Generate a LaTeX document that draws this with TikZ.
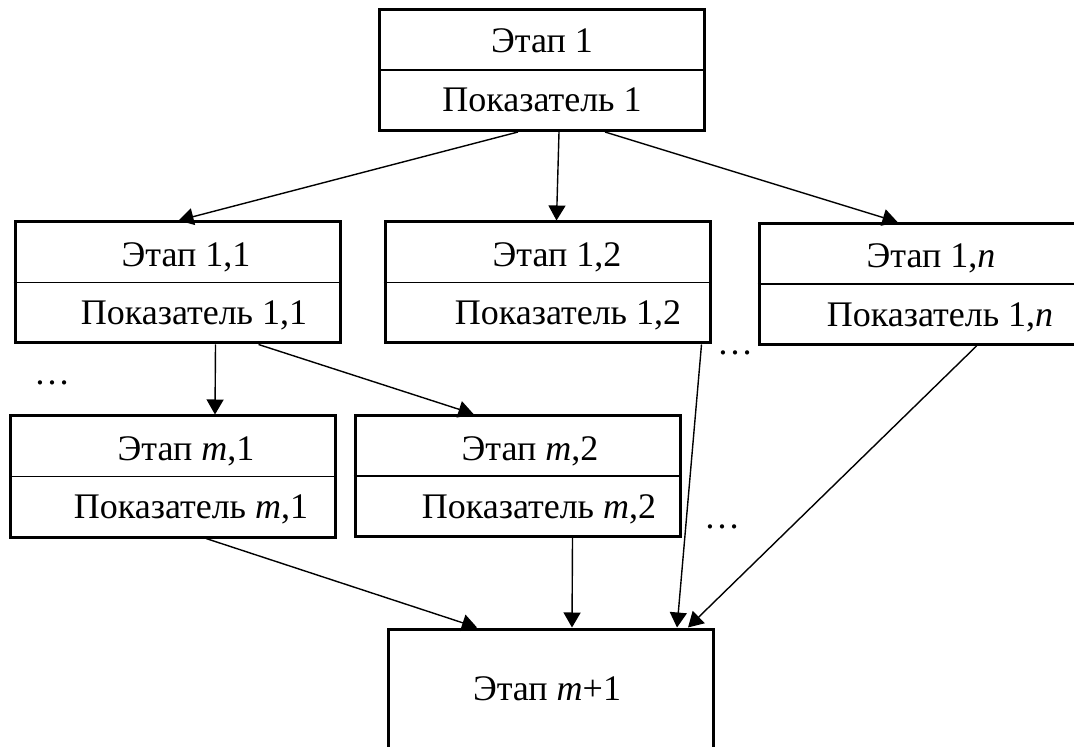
\documentclass[tikz,border=0pt]{standalone}
\usepackage{fontspec}
\setmainfont{Liberation Serif}
\usetikzlibrary{arrows.meta,calc}

\begin{document}
\begin{tikzpicture}[x=0.5pt,y=-0.5pt,
		box/.style={draw,line width=1.5pt,minimum width=162.5pt,minimum height=60.5pt,inner sep=0pt},
		lbl/.style={font=\fontsize{18}{20}\selectfont,inner sep=0pt,text depth=0pt},
		arr/.style={line width=0.7pt,-{Triangle[length=7.5pt,width=8.5pt]}}]
		\useasboundingbox (0,0) rectangle (1074,747);
		\clip (0,0) rectangle (1074,747);

		\foreach \n / \x / \y in {s1/542/70,s11/177.5/282.5,s12/547.5/282.5,s1n/921.5/284,sm1/173/476.5,sm2/517.5/476} {
			\node[box] (\n) at (\x,\y) {};
			\draw[line width=0.8pt] (\n.west) -- (\n.east);}
		\node[box] (sm) at (551,689.5) {};

		\node[lbl] (s1-a) at (542,41) {Этап 1};
		\node[lbl] (s1-b) at (542,100) {Показатель 1};
		\node[lbl] (s11-a) at (186,255) {Этап 1,1};
		\node[lbl] (s11-b) at (194,313) {Показатель 1,1};
		\node[lbl] (s12-a) at (557,255) {Этап 1,2};
		\node[lbl] (s12-b) at (568,313) {Показатель 1,2};
		\node[lbl] (s1n-a) at (931,256) {Этап 1,\textit{n}};
		\node[lbl] (s1n-b) at (940,315) {Показатель 1,\textit{n}};
		\node[lbl] (sm1-a) at (186,449) {Этап \textit{m},1};
		\node[lbl] (sm1-b) at (191,507) {Показатель \textit{m},1};
		\node[lbl] (sm2-a) at (530,449) {Этап \textit{m},2};
		\node[lbl] (sm2-b) at (539,507) {Показатель \textit{m},2};
		\node[lbl] (sm-a) at (547,689) {Этап \textit{m}+1};

		\node[lbl] (d1) at (52,383) {…};
		\node[lbl] (d2) at (735,353) {…};
		\node[lbl] (d3) at (722,527) {…};

		\draw[arr] ($(s1.south west)+(140,0)$) -- ($(s11.north west)+(165,0)$);
		\draw[arr] ($(s1.south west)+(181,0)$) -- ($(s12.north west)+(173,0)$);
		\draw[arr] ($(s1.south west)+(227,0)$) -- ($(s1n.north west)+(140,0)$);
		\draw[arr] ($(s11.south west)+(202,0)$) -- ($(sm1.north west)+(206,0)$);
		\draw[arr] ($(s11.south west)+(245,0)$) -- ($(sm2.north west)+(120,0)$);
		\draw[arr] ($(sm1.south west)+(197,0)$) -- ($(sm.north west)+(90,0)$);
		\draw[arr] ($(sm2.south west)+(219,0)$) -- ($(sm.north west)+(185,0)$);
		\draw[arr] ($(s12.south west)+(318,0)$) -- ($(sm.north west)+(290,0)$);
		\draw[arr] ($(s1n.south west)+(219,0)$) -- ($(sm.north west)+(301,0)$);
	\end{tikzpicture}
\end{document}
